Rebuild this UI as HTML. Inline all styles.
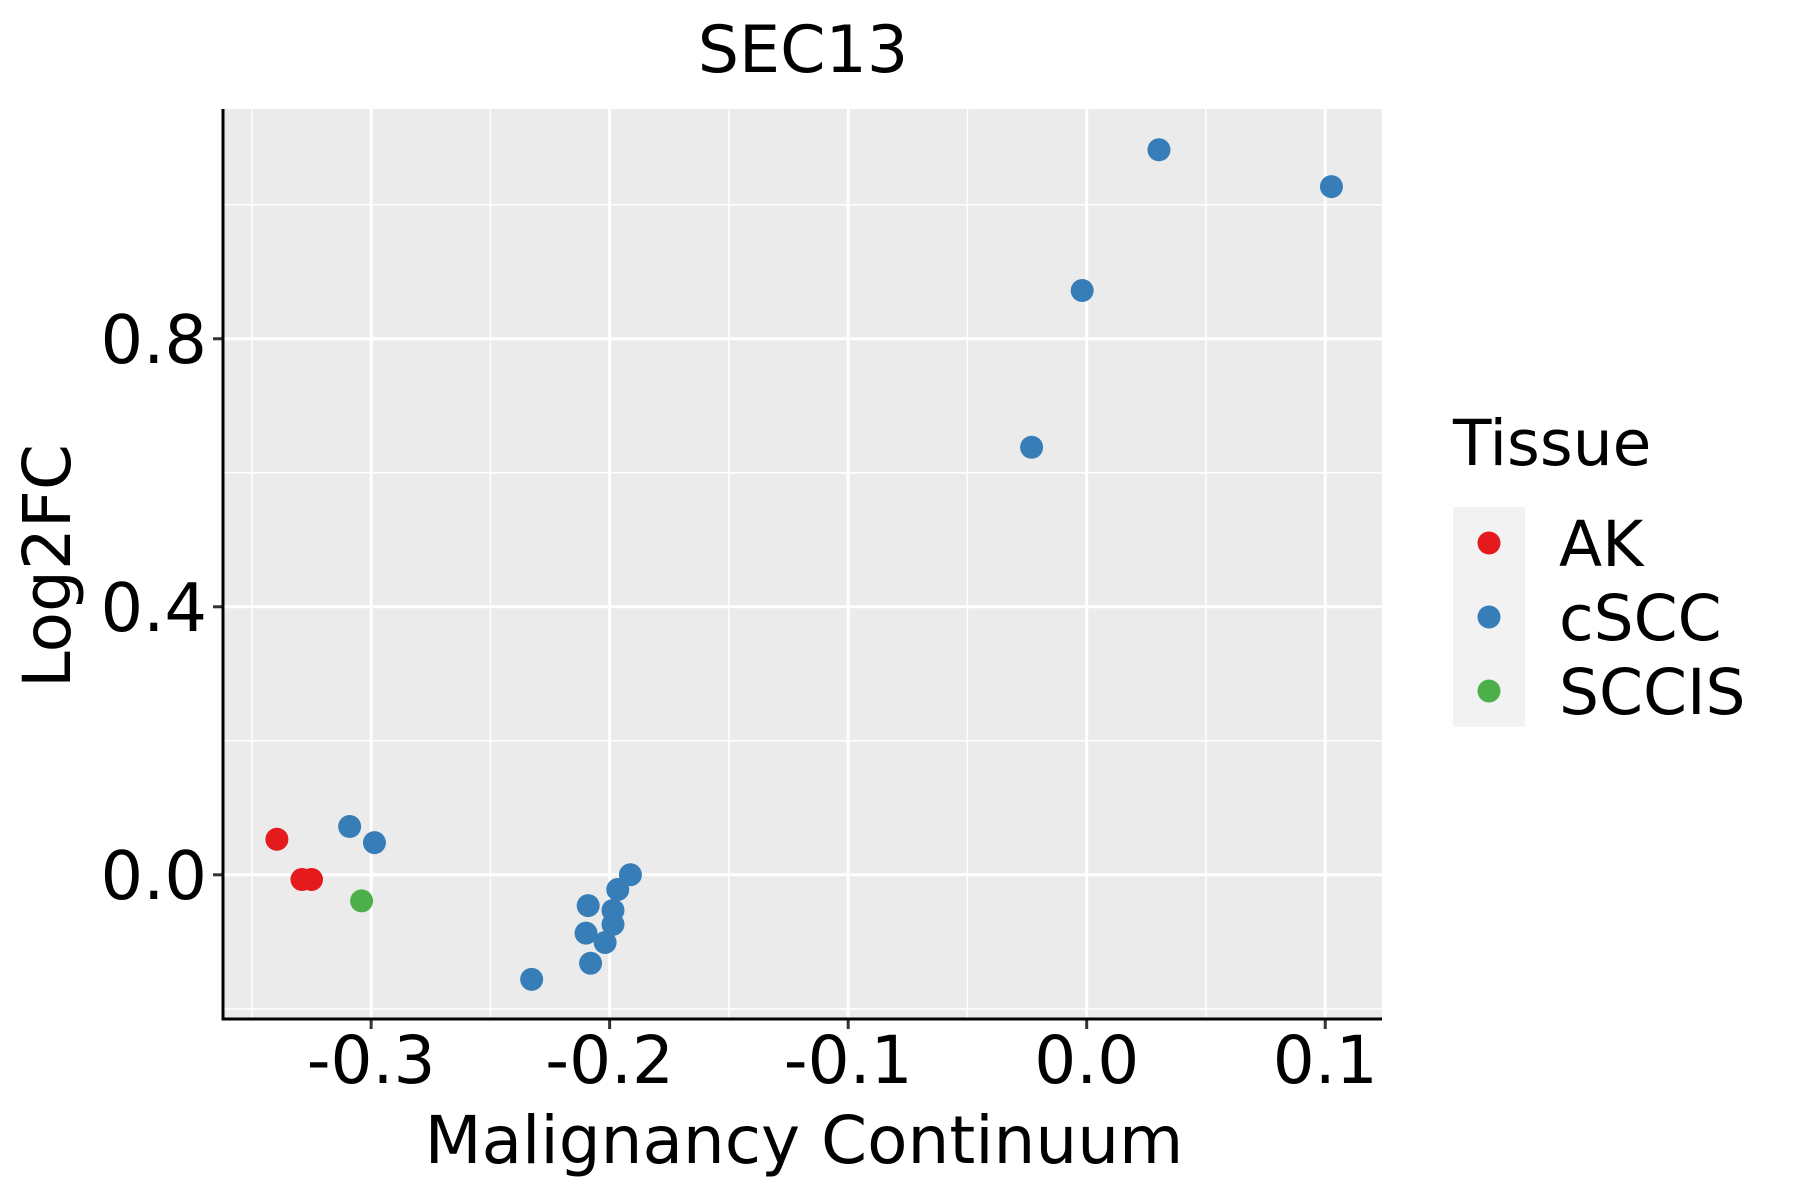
<!DOCTYPE html>
<html><head><meta charset="utf-8"><style>body{margin:0;background:#fff}svg{display:block;font-family:"DejaVu Sans","Liberation Sans",sans-serif}</style></head>
<body>
<svg id="chart" width="1800" height="1200" viewBox="0 0 1800 1200">
<text x="803" y="72" font-size="65" text-anchor="middle">SEC13</text>
<rect x="223" y="109" width="1159" height="910" fill="#ebebeb"/>
<g id="grid"></g><g id="points"></g><g id="axes"></g>
<text x="804" y="1163" font-size="66" text-anchor="middle">Malignancy Continuum</text>
<text transform="translate(70,566) rotate(-90)" font-size="66" text-anchor="middle">Log2FC</text>
<g>
<text x="1453" y="465" font-size="63">Tissue</text>
<rect x="1453" y="507" width="72" height="220" fill="#f2f2f2"/>
<g id="legend"></g>
</g>
</svg>
<script>
const xTicks=[-0.3,-0.2,-0.1,0.0,0.1];
const xTickLabels=["-0.3","-0.2","-0.1","0.0","0.1"];
const yTicks=[0.0,0.4,0.8];
const yTickLabels=["0.0","0.4","0.8"];
const groups=["AK","cSCC","SCCIS"];
const groupColors=["#e41a1c","#377eb8","#4daf4a"];
const akX=[-0.3395,-0.329,-0.325];
const akY=[0.053,-0.007,-0.007];
const scciX=[-0.304];
const scciY=[-0.039];
const csccX=[-0.309,-0.2986,-0.2327,-0.209,-0.2099,-0.208,-0.2019,-0.1986,-0.1986,-0.1966,-0.1913,-0.0231,-0.0019,0.0303,0.1026];
const csccY=[0.072,0.048,-0.156,-0.046,-0.087,-0.132,-0.101,-0.074,-0.053,-0.022,0.0,0.638,0.872,1.082,1.027];
const X0=223,X1=1382,Y0=109,Y1=1019,xmin=-0.3621,xmax=0.1238,ymin=-0.2152,ymax=1.1429;
const sx=v=>X0+(v-xmin)/(xmax-xmin)*(X1-X0);
const sy=v=>Y1-(v-ymin)/(ymax-ymin)*(Y1-Y0);
const NS="http://www.w3.org/2000/svg";
function mk(t,a,p){const e=document.createElementNS(NS,t);for(const k in a)e.setAttribute(k,a[k]);p.appendChild(e);return e;}
const grid=document.getElementById('grid'),axes=document.getElementById('axes'),pts=document.getElementById('points'),leg=document.getElementById('legend');
for(let i=0;i<xTicks.length-1;i++){const m=(xTicks[i]+xTicks[i+1])/2;const l=mk('line',{x1:sx(m),x2:sx(m),y1:Y0,y2:Y1,stroke:'#fff','stroke-width':1.5},grid);

}
{const m=xTicks[0]-0.05;const l=mk('line',{x1:sx(m),x2:sx(m),y1:Y0,y2:Y1,stroke:'#fff','stroke-width':1.5},grid);

}
for(const m of [-0.2,0.2,0.6,1.0]){const l=mk('line',{x1:X0,x2:X1,y1:sy(m),y2:sy(m),stroke:'#fff','stroke-width':1.5},grid);

}
xTicks.forEach((v,i)=>{const l=mk('line',{x1:sx(v),x2:sx(v),y1:Y0,y2:Y1,stroke:'#fff','stroke-width':3},grid);


const t=mk('line',{x1:sx(v),x2:sx(v),y1:Y1,y2:Y1+10,stroke:'#333','stroke-width':3},axes);


const tx=mk('text',{x:sx(v),y:1083,'font-size':66,'text-anchor':'middle'},axes);tx.textContent=xTickLabels[i];

});
yTicks.forEach((v,i)=>{const l=mk('line',{x1:X0,x2:X1,y1:sy(v),y2:sy(v),stroke:'#fff','stroke-width':3},grid);


const t=mk('line',{x1:X0-10,x2:X0,y1:sy(v),y2:sy(v),stroke:'#333','stroke-width':3},axes);


const tx=mk('text',{x:X0-16,y:sy(v)+24,'font-size':67,'text-anchor':'end'},axes);tx.textContent=yTickLabels[i];

});
const ax=mk('path',{d:`M${X0},${Y0}V${Y1}H${X1}`,fill:'none',stroke:'#000','stroke-width':3},axes);


function draw(xs,ys,c,name){xs.forEach((x,i)=>{const p=mk('circle',{cx:sx(x),cy:sy(ys[i]),r:11.5,fill:c},pts);

});}
draw(csccX,csccY,groupColors[1],'cscc');
draw(akX,akY,groupColors[0],'ak');
draw(scciX,scciY,groupColors[2],'sccis');
groups.forEach((g,i)=>{const y=543+i*74;const c=mk('circle',{cx:1489,cy:y,r:11.5,fill:groupColors[i]},leg);


const t=mk('text',{x:1559,y:y+23,'font-size':63},leg);t.textContent=g;

});
</script>
</body></html>
